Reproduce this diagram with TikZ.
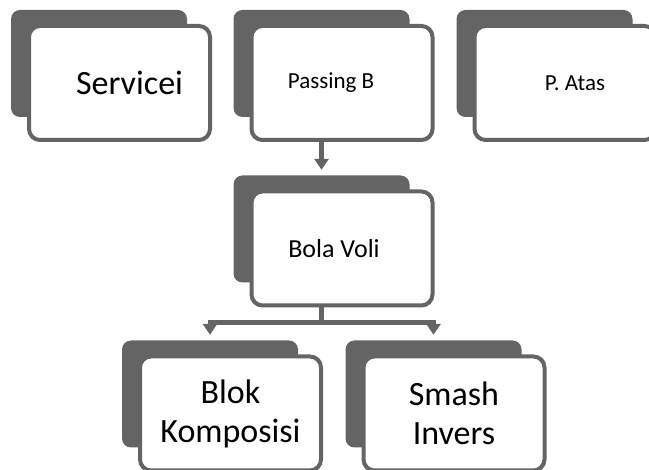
\documentclass[tikz,border=0pt]{standalone}
\usepackage{fontspec}
\setmainfont{Carlito}
\usepackage{xcolor}
\usetikzlibrary{arrows.meta}
\definecolor{boxgray}{RGB}{100,100,100}

\begin{document}
\begin{tikzpicture}[x=1pt, y=-1pt,
  backbox/.style={fill=boxgray, rounded corners=9pt, minimum width=176pt, minimum height=107pt, inner sep=0pt},
  frontbox/.style={draw=boxgray, line width=4pt, fill=white, rounded corners=11pt, minimum width=181pt, minimum height=114pt, inner sep=0pt, align=center},
  bigtext/.style={font=\fontsize{34}{39}\selectfont},
  smalltext/.style={font=\fontsize{23}{27}\selectfont},
  link/.style={boxgray, line width=5pt},
  arr/.style={link, -{Triangle[width=14pt,length=11pt]}}]
  \useasboundingbox[fill=white] (0,0) rectangle (649,470);
  % back sheets
  \node[backbox] (svb) at (99,63.5) {};
  \node[backbox] (pbb) at (321.5,63.5) {};
  \node[backbox] (pab) at (544.5,63.5) {};
  \node[backbox] (bvb) at (321.5,229) {};
  \node[backbox] (blb) at (210,394) {};
  \node[backbox] (smb) at (433.5,394) {};
  % front sheets
  \node[frontbox, bigtext] (sv) at ([shift={(20.5,19.5)}]svb.center) {\hspace*{20pt}Servicei};
  \node[frontbox, smalltext] (pb) at ([shift={(20.5,19.5)}]pbb.center) {Passing B\hspace*{22pt}};
  \node[frontbox, smalltext] (pa) at ([shift={(20.5,19.5)}]pab.center) {\hspace*{20pt}P. Atas};
  \node[frontbox, font=\fontsize{26}{30}\selectfont] (bv) at ([shift={(20.5,19.5)}]bvb.center) {Bola Voli\hspace*{16pt}};
  \node[frontbox, bigtext] (bl) at ([shift={(20.5,19.5)}]blb.center) {Blok\\Komposisi};
  \node[frontbox, bigtext] (sm) at ([shift={(20.5,19.5)}]smb.center) {Smash\\Invers};
  % connectors
  \draw[arr] (pb.south -| pbb.center) -- ([shift={(0,-5.5)}]bvb.north);
  \coordinate (fork) at ([shift={(0,15.5)}]bv.south);
  \draw[link] (bv.south -| bvb.center) -- (fork -| bvb.center);
  \draw[arr] (fork -| bvb.center) -| ([shift={(0,-5.5)}]blb.north);
  \draw[arr] (fork -| bvb.center) -| ([shift={(0,-5.5)}]smb.north);
\end{tikzpicture}
\end{document}
